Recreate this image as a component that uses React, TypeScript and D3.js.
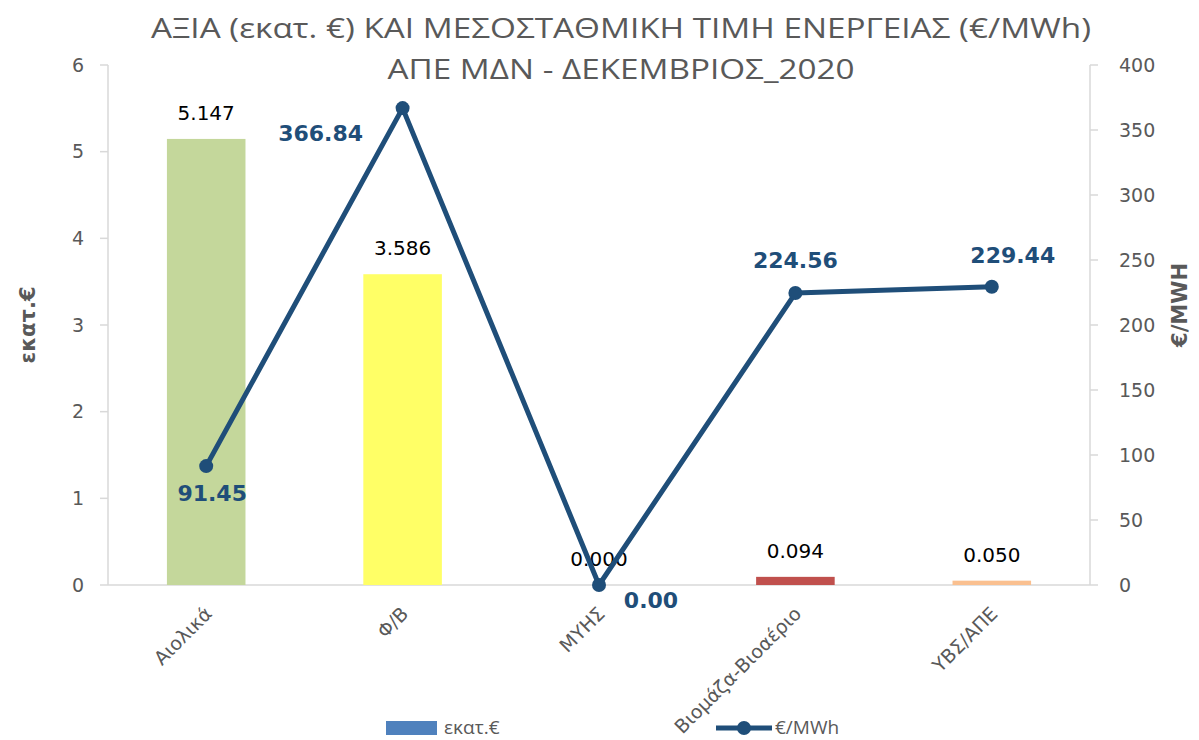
import React from "react";
import * as d3 from "d3";

const categories = ["Αιολικά", "Φ/Β", "ΜΥΗΣ", "Βιομάζα-Βιοαέριο", "ΥΒΣ/ΑΠΕ"];
const valueMEur = [5.147, 3.586, 0.0, 0.094, 0.05];
const priceEurMWh = [91.45, 366.84, 0.0, 224.56, 229.44];
const barColors = ["#C4D79B", "#FFFF66", "#4F81BD", "#C0504D", "#FAC090"];
const leftTicks = [0, 1, 2, 3, 4, 5, 6];
const rightTicks = [0, 50, 100, 150, 200, 250, 300, 350, 400];

const W = 1199, H = 740;
const M = { left: 108, right: 1090, top: 65, bottom: 585 };
const FONT = "'DejaVu Sans', 'Open Sans', sans-serif";
const GRAY = "#595959";
const LINE = "#1F4E79";

// label offsets per point (relative to point)
const lineLabelPos: [number, number][] = [
  [6, 27],
  [-82, 25],
  [52, 15],
  [0, -33],
  [21, -31],
];

export default function App() {
  const x = d3.scaleBand<string>().domain(categories).range([M.left, M.right]).paddingInner(0.6).paddingOuter(0.3);
  const yL = d3.scaleLinear().domain([0, 6]).range([M.bottom, M.top]);
  const yR = d3.scaleLinear().domain([0, 400]).range([M.bottom, M.top]);
  const cx = (c: string) => (x(c) as number) + x.bandwidth() / 2;
  const line = d3.line<number>().x((_, i) => cx(categories[i])).y((d) => yR(d));

  return (
    <svg width={W} height={H} style={{ position: "absolute", left: 0, top: 0, background: "#fff" }} fontFamily={FONT}>
      <text x={621} y={38} textAnchor="middle" fontSize={28} fill={GRAY} textLength={940} lengthAdjust="spacingAndGlyphs" fontFamily="'Open Sans', sans-serif">
        ΑΞΙΑ (εκατ. €) ΚΑΙ ΜΕΣΟΣΤΑΘΜΙΚΗ ΤΙΜΗ ΕΝΕΡΓΕΙΑΣ (€/MWh)
      </text>
      <text x={621} y={79} textAnchor="middle" fontSize={28} fill={GRAY} textLength={467} lengthAdjust="spacingAndGlyphs" fontFamily="'Open Sans', sans-serif">
        ΑΠΕ ΜΔΝ - ΔΕΚΕΜΒΡΙΟΣ_2020
      </text>

      {/* axes */}
      <line x1={M.left} x2={M.left} y1={M.top} y2={M.bottom} stroke="#D9D9D9" strokeWidth={1.5} />
      <line x1={M.right} x2={M.right} y1={M.top} y2={M.bottom} stroke="#D9D9D9" strokeWidth={1.5} />
      <line x1={M.left} x2={M.right} y1={M.bottom} y2={M.bottom} stroke="#D9D9D9" strokeWidth={1.5} />
      {leftTicks.map((t) => (
        <g key={"l" + t}>
          <line x1={M.left - 8} x2={M.left} y1={yL(t)} y2={yL(t)} stroke="#D9D9D9" strokeWidth={1.5} />
          <text x={84} y={yL(t)} dy="0.35em" textAnchor="end" fontSize={19} fill={GRAY}>
            {t}
          </text>
        </g>
      ))}
      {rightTicks.map((t) => (
        <g key={"r" + t}>
          <line x1={M.right} x2={M.right + 8} y1={yR(t)} y2={yR(t)} stroke="#D9D9D9" strokeWidth={1.5} />
          <text x={1119} y={yR(t)} dy="0.35em" textAnchor="start" fontSize={19} fill={GRAY}>
            {t}
          </text>
        </g>
      ))}
      <text transform="translate(28,325) rotate(-90)" textAnchor="middle" dy="0.35em" fontSize={21} fontWeight="bold" fill={GRAY}>
        εκατ.€
      </text>
      <text transform="translate(1180,305) rotate(-90)" textAnchor="middle" dy="0.35em" fontSize={21} fontWeight="bold" fill={GRAY}>
        €/MWH
      </text>

      {/* bars */}
      {categories.map((c, i) => (
        <rect key={c} x={x(c)} width={x.bandwidth()} y={yL(valueMEur[i])} height={M.bottom - yL(valueMEur[i])} fill={barColors[i]} />
      ))}
      {categories.map((c, i) => (
        <text key={"bl" + c} x={cx(c)} y={yL(valueMEur[i]) - 19} textAnchor="middle" fontSize={20} fill="#000">
          {valueMEur[i].toFixed(3)}
        </text>
      ))}

      {/* x labels */}
      {categories.map((c) => (
        <text key={"x" + c} transform={`translate(${cx(c) + 7},${M.bottom + 30}) rotate(-45)`} textAnchor="end" fontSize={19} fill={GRAY}>
          {c}
        </text>
      ))}

      {/* line */}
      <path d={line(priceEurMWh) as string} fill="none" stroke={LINE} strokeWidth={5} strokeLinejoin="round" />
      {priceEurMWh.map((v, i) => (
        <circle key={"p" + i} cx={cx(categories[i])} cy={yR(v)} r={7} fill={LINE} />
      ))}
      {priceEurMWh.map((v, i) => (
        <text key={"pl" + i} x={cx(categories[i]) + lineLabelPos[i][0]} y={yR(v) + lineLabelPos[i][1]} dy="0.35em" textAnchor="middle" fontSize={22} fontWeight="bold" fill={LINE}>
          {v.toFixed(2)}
        </text>
      ))}

      {/* legend */}
      <rect x={386} y={721} width={51} height={14} fill="#4F81BD" />
      <text x={444} y={734} fontSize={19} fill={GRAY} fontFamily="'Open Sans', sans-serif">εκατ.€</text>
      <line x1={716} x2={772} y1={728} y2={728} stroke={LINE} strokeWidth={5} />
      <circle cx={744} cy={728} r={7} fill={LINE} />
      <text x={775} y={734} fontSize={19} fill={GRAY} fontFamily="'Open Sans', sans-serif">€/MWh</text>
    </svg>
  );
}
